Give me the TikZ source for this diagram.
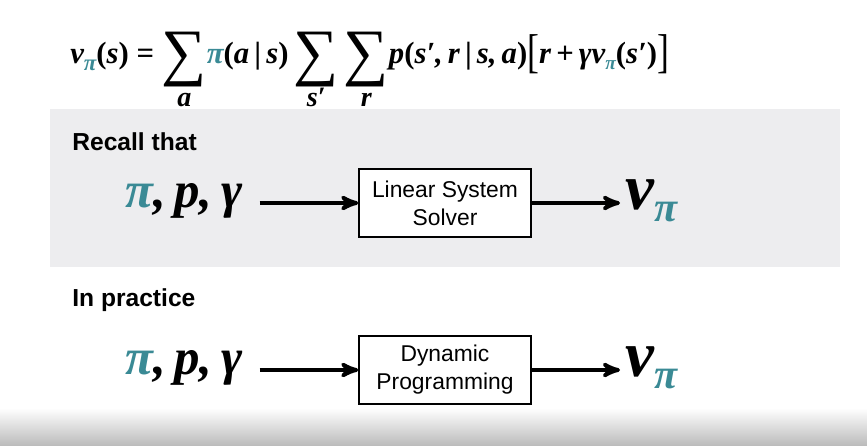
\documentclass[tikz,border=0pt]{standalone}
\usepackage{fontspec}
\setmainfont{Liberation Serif}
\setsansfont{Liberation Sans}
\usepackage{xcolor}
\usepackage{graphicx}
\usetikzlibrary{arrows}
\definecolor{piteal}{HTML}{3A8A95}
\definecolor{bandgray}{HTML}{EDEDEF}
\newcommand{\tpi}{{\color{piteal}π}}
\newcommand{\op}{{\upshape(}}
\newcommand{\cp}{{\upshape)}}
\newcommand{\bsum}[1]{\setbox0\hbox{\mdseries\upshape\fontsize{36}{36}\selectfont ∑}%
  \raisebox{-0.3em}{\usebox0}\llap{\makebox[\wd0]{\raisebox{-1.38em}{\smash{\fontsize{16}{16}\selectfont #1}}}}}
\newcommand{\bbrack}[1]{{\mdseries\upshape\fontsize{27}{27}\selectfont\raisebox{-0.08em}{\scalebox{0.75}[1]{#1}}}}
\newcommand{\vpi}[1]{v{\fontsize{#1}{#1}\selectfont\raisebox{-0.28em}{\tpi}}}
\tikzset{
  heading/.style={anchor=base west, inner sep=0, font=\sffamily\bfseries\fontsize{14}{16}\selectfont},
  inputs/.style={anchor=base west, inner sep=0, font=\bfseries\itshape\fontsize{29}{29}\selectfont},
  output/.style={anchor=base west, inner sep=0, font=\bfseries\itshape\fontsize{37}{37}\selectfont},
  solver/.style={draw, thick, fill=white, minimum width=3.44cm, minimum height=1.36cm,
    align=center, font=\sffamily\fontsize{13}{16}\selectfont},
  flow/.style={->, >=stealth', line width=2.2pt},
}
\begin{document}
\begin{tikzpicture}[x=0.02cm,y=-0.02cm]
\useasboundingbox (0,0) rectangle (867,446);
% band and bottom fade
\fill[bandgray] (50,109) rectangle (840,267);
\shade[top color=white, bottom color=black!27] (0,408) rectangle (867,446);
% Bellman equation
\node[anchor=base west, inner sep=0, font=\bfseries\itshape\fontsize{17.5}{18}\selectfont] (bellman) at (70,64)
  {\vpi{13}\op s\cp\ {\upshape=} \bsum{a}\tpi\op a\,{\upshape|}\,s\cp\,\bsum{s′}\,\bsum{r}p\op s′,\,r\,{\upshape|}\,s,\,a\cp\bbrack{[}r\,{\upshape+}\,γ\vpi{11}\op s′\cp\bbrack{]}};
% recall that
\node[heading] (recall) at (72,151) {Recall that};
\node[inputs] (inA) at (125,208) {\tpi,\,p,\,γ};
\node[solver] (solverA) at (445,203) {Linear System\\Solver};
\node[output] (vA) at (625,210) {\vpi{24}};
\draw[flow, shorten <=0.34cm] (inA.east |- solverA) -- (solverA);
\draw[flow, shorten >=0.1cm] (solverA) -- (vA.west |- solverA);
% in practice
\node[heading] (practice) at (72,307) {In practice};
\node[inputs] (inB) at (125,375) {\tpi,\,p,\,γ};
\node[solver] (solverB) at (445,370) {Dynamic\\Programming};
\node[output] (vB) at (625,377) {\vpi{24}};
\draw[flow, shorten <=0.34cm] (inB.east |- solverB) -- (solverB);
\draw[flow, shorten >=0.1cm] (solverB) -- (vB.west |- solverB);
\end{tikzpicture}
\end{document}
